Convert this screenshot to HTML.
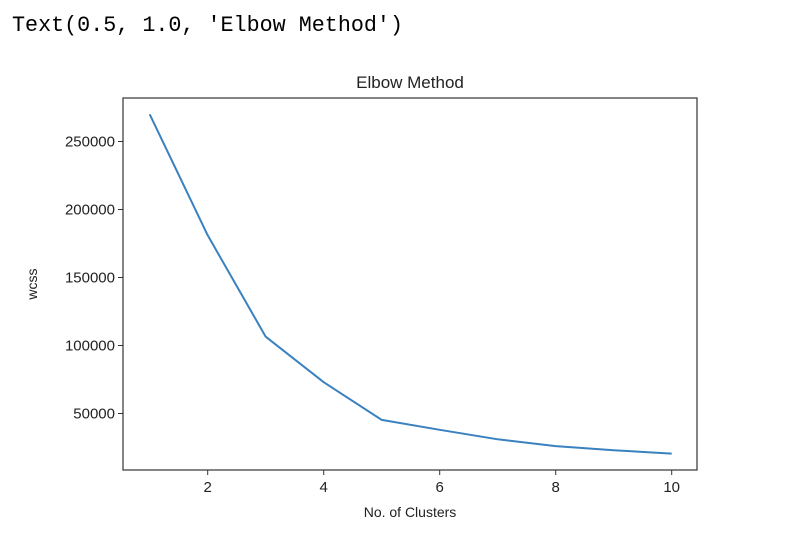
<!DOCTYPE html>
<html><head><meta charset="utf-8"><style>
html,body{margin:0;padding:0;background:#fff;}
svg{display:block;}
</style></head><body>
<svg id="chart" width="798" height="558" xmlns="http://www.w3.org/2000/svg">
<text x="12" y="31" font-family="Liberation Mono, monospace" font-size="22" textLength="391" lengthAdjust="spacingAndGlyphs" fill="#000">Text(0.5, 1.0, 'Elbow Method')</text>
<text x="410" y="88" text-anchor="middle" font-family="Liberation Sans, DejaVu Sans, sans-serif" font-size="17" fill="#222">Elbow Method</text>
<g id="axes"></g>
<text x="410" y="517" text-anchor="middle" font-family="Liberation Sans, DejaVu Sans, sans-serif" font-size="14" fill="#222">No. of Clusters</text>
<text transform="translate(37,284) rotate(-90)" text-anchor="middle" font-family="Liberation Sans, DejaVu Sans, sans-serif" font-size="14" fill="#222">wcss</text>
</svg>
<script>
const clusters = [1,2,3,4,5,6,7,8,9,10];
const wcss = [270000,181000,106500,73000,45300,38000,31000,26000,23000,20500];
const xTicks = [2,4,6,8,10];
const yTicks = [50000,100000,150000,200000,250000];
const L=123,R=697,T=98,B=470;
function xs(v){return 149.7+(v-1)*58;}
function ys(v){return 345.5+(100000-v)*68/50000;}
const NS="http://www.w3.org/2000/svg";
const g=document.getElementById('axes');
function mk(tag,attrs){const e=document.createElementNS(NS,tag);for(const k in attrs)e.setAttribute(k,attrs[k]);g.appendChild(e);return e;}
const fr=mk('rect',{x:L,y:T,width:R-L,height:B-T,fill:'none',stroke:'#333','stroke-width':1.2});


xTicks.forEach(t=>{
  const l=mk('line',{x1:xs(t),x2:xs(t),y1:B,y2:B+5,stroke:'#333','stroke-width':1});
  
  
  const tx=mk('text',{x:xs(t),y:B+22,'text-anchor':'middle','font-family':'Liberation Sans, DejaVu Sans, sans-serif','font-size':15,fill:'#222'});
  tx.textContent=t;
  
  
});
yTicks.forEach(t=>{
  const l=mk('line',{x1:L-5,x2:L,y1:ys(t),y2:ys(t),stroke:'#333','stroke-width':1});
  
  
  const tx=mk('text',{x:L-8,y:ys(t)+5,'text-anchor':'end','font-family':'Liberation Sans, DejaVu Sans, sans-serif','font-size':15,fill:'#222'});
  tx.textContent=t;
  
  
});
const pts=clusters.map((c,i)=>xs(c).toFixed(1)+','+ys(wcss[i]).toFixed(1)).join(' ');
const line=mk('polyline',{points:pts,fill:'none',stroke:'#3a81bf','stroke-width':2,'stroke-linejoin':'round'});


</script>
</body></html>
